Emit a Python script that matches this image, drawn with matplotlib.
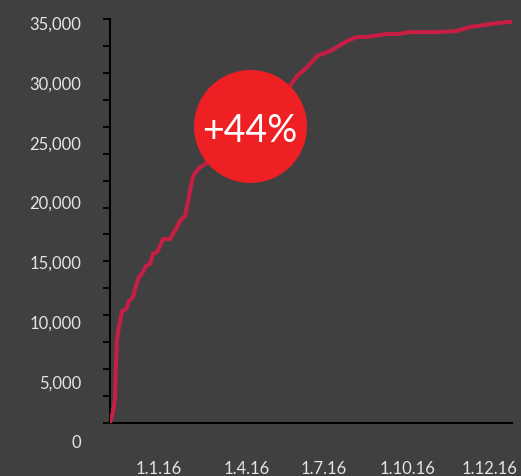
import matplotlib
matplotlib.use('Agg')
import matplotlib.pyplot as plt
from matplotlib.ticker import FuncFormatter

plt.rcParams['font.family'] = ['Lato', 'DejaVu Sans']

BG = '#404040'
LINE_COLOR = '#C81E44'
BUBBLE_COLOR = '#EE2024'
TEXT_COLOR = '#E4E4E4'

# cumulative count (days since start of series)
days = [0, 2.7, 4.5, 5.4, 6.4, 8.2, 10.9, 14.5, 17.3, 20.9, 22.7, 26.3, 30.0,
        32.7, 36.3, 39.0, 42.7, 45.4, 48.1, 54.5, 59.9, 63.6, 68.1, 70.8, 73.5,
        75.4, 79.9, 86.3, 109, 131.7, 149.8, 163.4, 169.8, 177.1, 183.4, 188,
        199.8, 206.1, 215.2, 224.3, 233.4, 238.8, 251.5, 261.5, 272.4, 299.6,
        315, 326.9, 345, 361.4, 365]
values = [1500, 2420, 3510, 6270, 8520, 9610, 10860, 11030, 11690, 12030, 12700,
          13700, 14120, 14620, 14790, 15620, 15790, 16290, 16870, 16870, 17710,
          18380, 18790, 19960, 21300, 22140, 22720, 23140, 24810, 26900, 28570,
          29650, 30490, 31070, 31660, 32160, 32580, 32910, 33410, 33750, 33750,
          33830, 34000, 34000, 34160, 34160, 34250, 34580, 34830, 35000, 35000]

x_tick_pos = [44.5, 124, 194, 270.6, 345]
x_tick_labels = ['1.1.16', '1.4.16', '1.7.16', '1.10.16', '1.12.16']
y_label_values = list(range(0, 35001, 5000))

badge_day, badge_value = 126.7, 26350
badge_text = '+44%'

W, H = 521, 477
fig = plt.figure(figsize=(W / 100, H / 100), dpi=100)
fig.patch.set_facecolor(BG)

# main plot area (pixel geometry of the reference)
ax = fig.add_axes([110 / W, (H - 424) / H, (512 - 110) / W, (424 - 20) / H])
ax.set_facecolor(BG)
y_lo, y_hi = 1504, 35250
ax.set_xlim(0, 365)
ax.set_ylim(y_lo, y_hi)

ax.plot(days, values, color=LINE_COLOR, lw=2.9, solid_joinstyle='round', zorder=3)

ax.scatter([badge_day], [badge_value], s=6620, color=BUBBLE_COLOR,
           linewidths=0, zorder=4, clip_on=False)
ax.text(badge_day, badge_value - 380, badge_text, color='white', fontsize=27,
        ha='center', va='center', zorder=5)

for side in ['top', 'right']:
    ax.spines[side].set_visible(False)
for side in ['left', 'bottom']:
    ax.spines[side].set_color('black')
    ax.spines[side].set_linewidth(1.5)

step = (y_hi - y_lo) / 15
ax.set_yticks([y_lo + i * step for i in range(16)])
ax.tick_params(axis='y', length=5, width=1.3, color='black', labelleft=False)

ax.set_xticks(x_tick_pos)
ax.set_xticklabels(x_tick_labels)
ax.tick_params(axis='x', length=0, pad=27, labelsize=12, labelcolor=TEXT_COLOR)

# value labels sit on their own scale, as in the reference
lab = fig.add_axes([81 / W, (H - 442) / H, 0.01, (442 - 23) / H])
lab.patch.set_visible(False)
lab.set_ylim(0, 35000)
lab.set_yticks(y_label_values)
lab.yaxis.set_major_formatter(FuncFormatter(lambda v, p: f'{int(v):,}'))
lab.tick_params(axis='y', length=0, pad=0, labelsize=12, labelcolor=TEXT_COLOR)
lab.set_xticks([])
for s in lab.spines.values():
    s.set_visible(False)

fig.savefig('out.png', dpi=100, facecolor=BG)
